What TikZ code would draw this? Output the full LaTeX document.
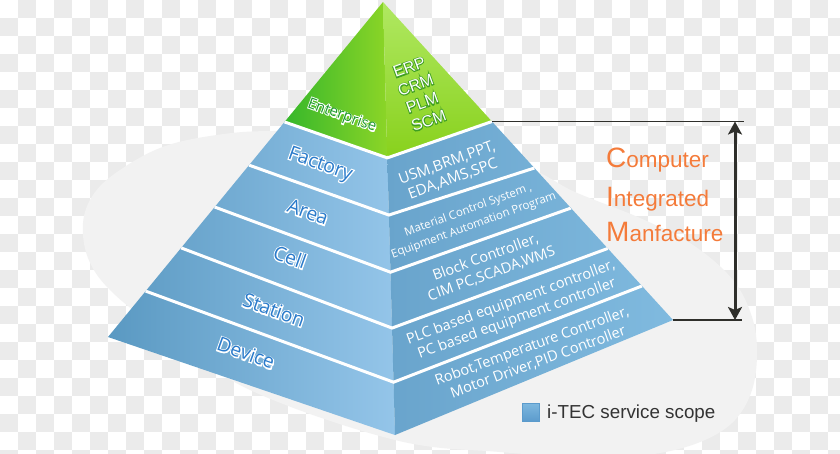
\documentclass[tikz,border=0pt]{standalone}
\usepackage{fontspec}
\setmainfont{Open Sans}
\newfontfamily\arialf{Liberation Sans}
\newfontfamily\haloOS[FakeBold=12]{Open Sans}
\newfontfamily\haloAR[FakeBold=10]{Liberation Sans}
\usetikzlibrary{arrows.meta,calc}

\definecolor{chk}{HTML}{EBEBEB}
\definecolor{blobc}{HTML}{F2F2F2}
\definecolor{lfA}{HTML}{5A99C2}
\definecolor{lfB}{HTML}{94C5E9}
\definecolor{rfA}{HTML}{69A4CC}
\definecolor{rfB}{HTML}{80BADF}
\definecolor{glA}{HTML}{36B72B}
\definecolor{glB}{HTML}{8CD527}
\definecolor{grA}{HTML}{B0E862}
\definecolor{grB}{HTML}{88D11C}
\definecolor{lblblue}{HTML}{2A7BCB}
\definecolor{entgreen}{HTML}{1E9A2C}
\definecolor{erpglow}{HTML}{3E9E22}
\definecolor{orangec}{HTML}{F47B3A}
\definecolor{darkc}{HTML}{2F2F2B}
\definecolor{legtxt}{HTML}{333333}
\definecolor{legA}{HTML}{5B9BCC}
\definecolor{legB}{HTML}{7DB7DF}

% one emboldened copy underneath gives the glow
\newcommand\lbl[1]{\makebox[0pt][l]{\color{white}\haloOS #1}{\color{lblblue}#1}}
\newcommand\entlbl[1]{\makebox[0pt][l]{\color{white}\haloOS #1}{\color{entgreen}#1}}
\newcommand\erp[1]{\makebox[0pt][l]{\color{erpglow}\haloAR #1}{\color{white}#1}}

\begin{document}
\begin{tikzpicture}[x=1pt,y=-1pt,
  leftlabel/.style={rotate=-19.5, inner sep=0pt, font=\fontsize{19.5}{22}\selectfont},
  rtext/.style={rotate=20, inner sep=0pt, align=center, text=white},
  divider/.style={white, line width=3pt},
  hline/.style={darkc, line width=1.5pt},
  dimarrow/.style={darkc, line width=3pt, {Stealth[length=13pt,width=14pt,inset=3pt]}-{Stealth[length=13pt,width=14pt,inset=3pt]}},
  cim/.style={text=orangec, inner sep=0pt, anchor=base west, font=\arialf\fontsize{22.5}{26}\selectfont},
  legbox/.style={draw=legA, line width=0.8pt, top color=legB, bottom color=legA, minimum width=17pt, minimum height=18pt, inner sep=0pt}
]
\useasboundingbox (0,0) rectangle (840,453);
\fill[white] (0,0) rectangle (840,453);
% checkerboard
\foreach \j in {0,2,...,24} \foreach \i in {1,3,...,45} \fill[chk] (18*\i,18*\j) rectangle ++(18,18);
\foreach \j in {1,3,...,25} \foreach \i in {0,2,...,46} \fill[chk] (18*\i,18*\j) rectangle ++(18,18);
% background blob
\fill[blobc] plot[smooth cycle, tension=0.6] coordinates {
 (83,223) (93,195) (117,172) (160,148) (210,136) (273,131) (400,135) (520,165)
 (575,192) (640,218) (693,245) (733,280) (752,317) (757,353) (752,390) (735,420)
 (705,440) (660,453) (600,458) (500,452) (395,440) (250,390) (160,330) (110,290) (88,258)};
% pyramid geometry
\coordinate (A) at (383,2);
\coordinate (L) at (108,337);
\coordinate (F) at (395,435);
\coordinate (R) at (673,320);
\foreach \n/\tl/\tf/\tr in {1/0.358/0.360/0.3758, 2/0.487/0.492/0.522, 3/0.612/0.624/0.648, 4/0.734/0.753/0.775, 5/0.863/0.878/0.893}{
  \coordinate (L\n) at ($(A)!\tl!(L)$);
  \coordinate (F\n) at ($(A)!\tf!(F)$);
  \coordinate (R\n) at ($(A)!\tr!(R)$);
}
\shade[left color=lfA, right color=lfB] (L1) -- (F1) -- (F) -- (L) -- cycle;
\shade[left color=rfA, right color=rfB] (F1) -- (R1) -- (R) -- (F) -- cycle;
\shade[left color=glA, right color=glB] (A) -- (L1) -- (F1) -- cycle;
\shade[top color=grA, bottom color=grB] (A) -- (F1) -- (R1) -- cycle;
\begin{scope}
\clip (A) -- (L) -- (F) -- (R) -- cycle;
\foreach \n in {1,...,5} \draw[divider] (L\n) -- (F\n) -- (R\n);
\end{scope}
% left labels
\node[leftlabel, rotate=-0.5, font=\fontsize{15}{18}\selectfont] (ent) at (342,116) {\entlbl{Enterprise}};
\node[leftlabel] (fac) at (320,165) {\lbl{Factory}};
\node[leftlabel] (are) at (308,212) {\lbl{Area}};
\node[leftlabel] (cel) at (290,257) {\lbl{Cell}};
\node[leftlabel] (sta) at (274,310) {\lbl{Station}};
\node[leftlabel] (dev) at (246,353) {\lbl{Device}};
% right face texts
\node[rtext, font=\arialf\fontsize{16}{19}\selectfont] (erpb) at (419,94) {\erp{ERP}\\\erp{CRM}\\\erp{PLM}\\\erp{SCM}};
\node[rtext, font=\fontsize{15}{17}\selectfont] (t1) at (450,171) {USM,BRM,PPT,\\EDA,AMS,SPC};
\node[rtext, font=\fontsize{11.5}{16}\selectfont] (t2) at (471,218) {Material Control System ,\\Equipment Automation Program};
\node[rtext, font=\fontsize{14.5}{17.5}\selectfont] (t3) at (488.5,265.5) {Block Controller,\\CIM PC,SCADA,WMS};
\node[rtext, font=\fontsize{14.5}{17.5}\selectfont] (t4) at (514,311) {PLC based equipment controller,\\PC based equipment controller};
\node[rtext, font=\fontsize{14.5}{17.5}\selectfont] (t5) at (535,354) {Robot,Temperature Controller,\\Motor Driver,PID Controller};
% dimension lines and arrow
\coordinate (hT2) at ($(R1)+(252,0)$);
\coordinate (hB2) at ($(R)+(69,0)$);
\coordinate (aT) at (735,121.5);
\coordinate (aB) at (735,320);
\draw[hline] (R1) -- (hT2);
\draw[hline] (R) -- (hB2);
\draw[dimarrow] (aT) -- (aB);
% CIM text
\node[cim] (c1) at (606,167) {{\fontsize{28}{30}\selectfont C}omputer};
\node[cim] (c2) at (606,206) {{\fontsize{28}{30}\selectfont I}ntegrated};
\node[cim] (c3) at (606,241) {{\fontsize{28}{30}\selectfont M}anfacture};
% legend
\node[legbox] (leg) at (530.5,412.5) {};
\node[anchor=base west, inner sep=0pt, text=legtxt, font=\arialf\fontsize{18.8}{20}\selectfont] (legt) at (547,418) {i-TEC service scope};
\end{tikzpicture}
\end{document}
